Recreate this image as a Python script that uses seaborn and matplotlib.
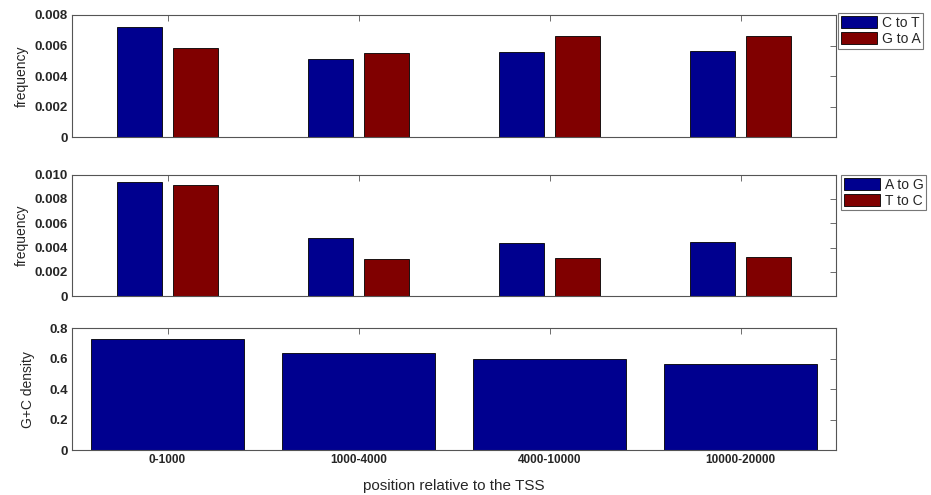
import matplotlib
matplotlib.use("Agg")
import matplotlib.pyplot as plt
import seaborn as sns
import pandas as pd

categories = ["0-1000", "1000-4000", "4000-10000", "10000-20000"]
c_to_t = [0.00721, 0.00511, 0.00557, 0.00564]
g_to_a = [0.00584, 0.00551, 0.00662, 0.00662]
a_to_g = [0.00937, 0.00478, 0.00437, 0.00445]
t_to_c = [0.00915, 0.00305, 0.00313, 0.00321]
gc_density = [0.728, 0.638, 0.598, 0.565]

BLUE = "#00008F"
RED = "#800000"

sns.set_style("white")
plt.rcParams["font.family"] = ["Liberation Sans", "DejaVu Sans"]

fig = plt.figure(figsize=(9.31, 4.95), dpi=100)
left, width = 72 / 931, 764 / 931
ax1 = fig.add_axes([left, 0.7232, width, 0.2465])
ax2 = fig.add_axes([left, 0.402, width, 0.245])
ax3 = fig.add_axes([left, 0.0909, width, 0.2459])

def long_df(s1, n1, s2, n2):
    return pd.DataFrame({
        "pos": categories * 2,
        "value": list(s1) + list(s2),
        "type": [n1] * len(s1) + [n2] * len(s2),
    })

df1 = long_df(c_to_t, "C to T", g_to_a, "G to A")
df2 = long_df(a_to_g, "A to G", t_to_c, "T to C")
df3 = pd.DataFrame({"pos": categories, "value": gc_density})

for ax, df, names in [(ax1, df1, ["C to T", "G to A"]), (ax2, df2, ["A to G", "T to C"])]:
    sns.barplot(data=df, x="pos", y="value", hue="type", hue_order=names,
                palette=[BLUE, RED], width=0.58, gap=0.19, ax=ax,
                edgecolor="black", linewidth=0.6, errorbar=None, saturation=1)

sns.barplot(data=df3, x="pos", y="value", color=BLUE, width=0.8, ax=ax3,
            edgecolor="black", linewidth=0.6, errorbar=None, saturation=1)

ax1.set_ylim(0, 0.008)
ax1.set_yticks([0, 0.002, 0.004, 0.006, 0.008])
ax1.set_yticklabels(["0", "0.002", "0.004", "0.006", "0.008"])
ax2.set_ylim(0, 0.010)
ax2.set_yticks([0, 0.002, 0.004, 0.006, 0.008, 0.010])
ax2.set_yticklabels(["0", "0.002", "0.004", "0.006", "0.008", "0.010"])
ax3.set_ylim(0, 0.8)
ax3.set_yticks([0, 0.2, 0.4, 0.6, 0.8])
ax3.set_yticklabels(["0", "0.2", "0.4", "0.6", "0.8"])

for ax in (ax1, ax2, ax3):
    ax.set_xlim(-0.5, 3.5)
    ax.set_xticks(range(len(categories)))
    ax.tick_params(direction="in", length=4, width=0.6, color="#555555",
                   top=True, right=True, labelsize=9.5, pad=3)
    for sp in ax.spines.values():
        sp.set_color("#555555")
        sp.set_linewidth(0.8)
    ax.set_xlabel("")
    ax.set_ylabel("")
    for lab in ax.get_yticklabels():
        lab.set_fontweight("bold")

ax1.set_xticklabels([])
ax2.set_xticklabels([])
ax3.set_xticklabels(categories)
for lab in ax3.get_xticklabels():
    lab.set_fontweight("bold")
    lab.set_fontsize(8.5)

ax1.set_ylabel("frequency", fontsize=10, labelpad=4)
ax2.set_ylabel("frequency", fontsize=10, labelpad=4)
ax3.set_ylabel("G+C density", fontsize=10, labelpad=10)
ax3.set_xlabel("position relative to the TSS", fontsize=11, labelpad=9)

for ax, anchor in [(ax1, (1.0026, 1.016)), (ax2, (1.0065, 1.0))]:
    leg = ax.legend(loc="upper left", bbox_to_anchor=anchor, frameon=True,
                    fancybox=False, fontsize=10, handlelength=2.6, handleheight=1.0,
                    handletextpad=0.35, borderpad=0.2, labelspacing=0.15,
                    borderaxespad=0, edgecolor="#555555")
    leg.get_frame().set_linewidth(0.8)

fig.savefig("out.png", dpi=100)
